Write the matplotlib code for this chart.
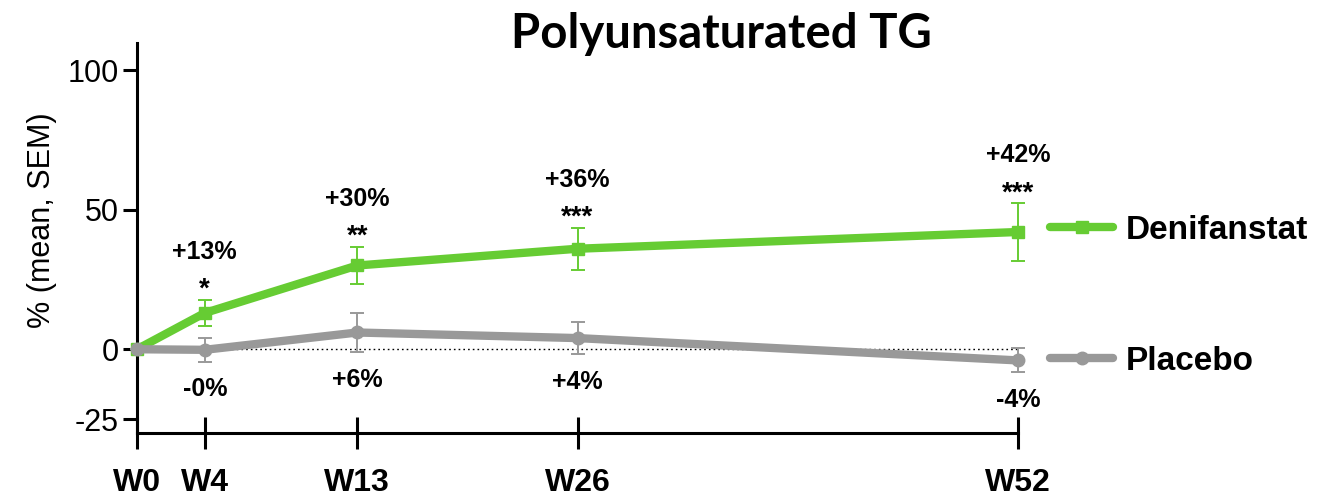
import matplotlib
matplotlib.use("Agg")
import matplotlib.pyplot as plt
import numpy as np

plt.rcParams["font.family"] = ["Liberation Sans", "DejaVu Sans"]
plt.rcParams["axes.unicode_minus"] = False

# Time points (weeks) and their tick labels
weeks = [0, 4, 13, 26, 52]
week_labels = ["W0", "W4", "W13", "W26", "W52"]

# Percent change from baseline (mean) and SEM per arm
deni_mean = [0, 13, 30, 36, 42]
deni_sem = [0, 4.8, 6.8, 7.6, 10.4]
plac_mean = [0, -0.2, 6, 4, -4]
plac_sem = [0, 4.2, 7.1, 5.8, 4.3]

# Significance markers for denifanstat vs placebo
stars = ["", "*", "**", "***", "***"]

series_names = ["Denifanstat", "Placebo"]
green = "#66CC33"
grey = "#999999"

fig = plt.figure(figsize=(13.42, 4.96), dpi=100)
ax = fig.add_axes([137 / 1342, 1 - 433 / 496, (1018 - 137) / 1342, (433 - 43) / 496])

ax.hlines(0, weeks[0], weeks[-1], colors="black", linestyles=(0, (1.2, 2.2)),
          linewidth=1.0, zorder=1)

deni = ax.errorbar(weeks, deni_mean, yerr=deni_sem, color=green, ecolor=green,
                   linewidth=6, marker="s", markersize=9, elinewidth=1.4,
                   capsize=5, capthick=1.4, clip_on=False,
                   solid_capstyle="round", zorder=3)
plac = ax.errorbar(weeks, plac_mean, yerr=plac_sem, color=grey, ecolor=grey,
                   linewidth=6, marker="o", markersize=9, elinewidth=1.4,
                   capsize=5, capthick=1.4, clip_on=False,
                   solid_capstyle="round", zorder=4)

# Value and significance annotations
for x, m, s, st in zip(weeks[1:], deni_mean[1:], deni_sem[1:], stars[1:]):
    ax.annotate(f"{m:+.0f}%", (x, m + s), xytext=(0, 29.5),
                textcoords="offset points", ha="center", va="baseline",
                fontsize=18, fontweight="bold")
    ax.annotate(st, (x, m + s), xytext=(0, 2),
                textcoords="offset points", ha="center", va="baseline",
                fontsize=20, fontweight="bold")
for x, m, s in zip(weeks[1:], plac_mean[1:], plac_sem[1:]):
    ax.annotate(f"{m:+.0f}%", (x, m - s), xytext=(0, -25),
                textcoords="offset points", ha="center", va="baseline",
                fontsize=18, fontweight="bold")

ax.set_xlim(0, 52)
ax.set_ylim(-30, 109.7)
ax.set_xticks(weeks)
ax.set_xticklabels(week_labels, fontsize=23, fontweight="bold")
ax.set_yticks([100, 50, 0, -25])
ax.set_yticklabels(["100", "50", "0", "-25"], fontsize=22)
ax.tick_params(axis="x", direction="inout", length=23, width=2.2, pad=14)
ax.tick_params(axis="y", direction="out", length=10, width=2.2, pad=3)

for side in ("top", "right"):
    ax.spines[side].set_visible(False)
for side in ("left", "bottom"):
    ax.spines[side].set_linewidth(2.2)

ax.set_ylabel("% (mean, SEM)", fontsize=22)
ax.yaxis.set_label_coords(-0.091, 0.546)

fig.legend([deni.lines[0], plac.lines[0]], series_names,
           loc="center left", bbox_to_anchor=(1050 / 1342, 1 - 296 / 496),
           frameon=False, borderpad=0, borderaxespad=0, handlelength=1.9,
           handletextpad=0.36, labelspacing=3.0, numpoints=1,
           prop={"size": 24, "weight": "bold"})

fig.text(721 / 1342, 1 - 48 / 496, "Polyunsaturated TG", ha="center",
         va="baseline", fontsize=34, fontweight="bold", family=["Lato", "DejaVu Sans"])

fig.savefig("out.png", dpi=100)
